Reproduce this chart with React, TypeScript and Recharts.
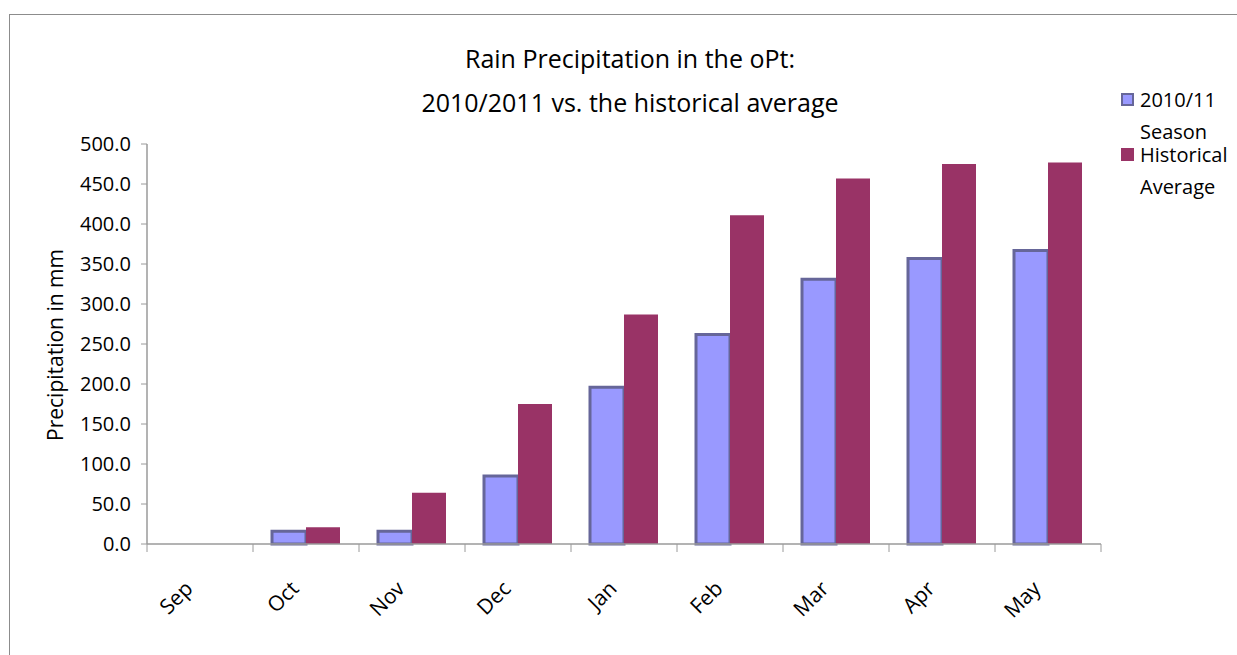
import React from 'react';
import { BarChart, Bar, XAxis, YAxis, Legend } from 'recharts';

const months = ['Sep', 'Oct', 'Nov', 'Dec', 'Jan', 'Feb', 'Mar', 'Apr', 'May'];
const season = [0, 16, 16, 85, 196, 262, 331, 357, 367];
const historical = [0, 21, 64, 175, 287, 411, 457, 475, 477];
const yTicks = [0, 50, 100, 150, 200, 250, 300, 350, 400, 450, 500];
const seriesNames = ['2010/11 Season', 'Historical Average'];
const titleLines = ['Rain Precipitation in the oPt:', '2010/2011 vs. the historical average'];
const yLabel = 'Precipitation in mm';

const data = months.map((m, i) => ({ month: m, season: season[i], historical: historical[i] }));

const FONT = "'Open Sans', 'Noto Sans', sans-serif";
const AXIS = '#9a9a9a';

const XTick = (props: any) => {
  const { x, y, payload, index } = props;
  const off = payload && payload.offset != null ? payload.offset : 0;
  const last = index === months.length - 1;
  const ax = x - 6;
  const ay = y + 46;
  return (
    <g>
      <line x1={x - off} x2={x - off} y1={y} y2={y + 8} stroke={AXIS} strokeWidth={1} />
      {last ? <line x1={x + off} x2={x + off} y1={y} y2={y + 8} stroke={AXIS} strokeWidth={1} /> : null}
      <text
        x={ax}
        y={ay}
        textAnchor="end"
        transform={`rotate(-45, ${ax}, ${ay})`}
        fontFamily={FONT}
        fontSize={21}
        fill="#000"
      >
        {payload.value}
      </text>
    </g>
  );
};

const LegendContent = (props: any) => {
  const { payload } = props;
  return (
    <div style={{ fontFamily: FONT, fontSize: 20, color: '#000' }}>
      {(payload || []).map((entry: any, i: number) => (
        <div key={i} style={{ display: 'flex', alignItems: 'flex-start', marginTop: i === 0 ? 0 : -9 }}>
          <div
            style={{
              width: i === 0 ? 9 : 13,
              height: i === 0 ? 9 : 13,
              marginTop: 9,
              marginRight: 6,
              background: i === 0 ? '#9999FF' : '#993366',
              border: i === 0 ? '2px solid #666699' : 'none',
              flexShrink: 0,
            }}
          />
          <div style={{ width: 95, lineHeight: '32px' }}>{entry.value}</div>
        </div>
      ))}
    </div>
  );
};

export default function App() {
  return (
    <div
      style={{
        position: 'fixed',
        top: 14,
        left: 9,
        right: 0,
        bottom: 0,
        borderTop: '1px solid #8c8c8c',
        borderLeft: '1px solid #8c8c8c',
        background: '#fff',
        overflow: 'hidden',
      }}
    >
      <div
        style={{
          position: 'absolute',
          left: 13,
          width: 1214,
          top: 21,
          textAlign: 'center',
          fontFamily: FONT,
          fontSize: 25,
          lineHeight: '44px',
          color: '#000',
        }}
      >
        {titleLines.map((t, i) => (
          <div key={i}>{t}</div>
        ))}
      </div>
      <div
        style={{
          position: 'absolute',
          left: 45,
          top: 330,
          transform: 'translate(-50%, -50%) rotate(-90deg)',
          whiteSpace: 'nowrap',
          fontFamily: FONT,
          fontSize: 21,
          color: '#000',
        }}
      >
        {yLabel}
      </div>
      <BarChart
        width={1227}
        height={630}
        data={data}
        margin={{ top: 129, right: 136, bottom: 41, left: 57 }}
        barGap={0}
        barSize={34}
      >
        <XAxis
          dataKey="month"
          height={60}
          axisLine={{ stroke: AXIS, strokeWidth: 1.5 }}
          tickLine={false}
          tickSize={0}
          tickMargin={0}
          interval={0}
          tick={<XTick />}
        />
        <YAxis
          width={80}
          domain={[0, 500]}
          ticks={yTicks}
          interval={0}
          tickFormatter={(v: number) => v.toFixed(1)}
          axisLine={{ stroke: AXIS, strokeWidth: 1.5 }}
          tickLine={{ stroke: AXIS }}
          tickSize={6}
          tickMargin={10}
          tick={{ fill: '#000', fontSize: 20, fontFamily: FONT }}
        />
        <Legend
          layout="vertical"
          align="center"
          verticalAlign="middle"
          wrapperStyle={{ top: 69, left: 1111, width: 116 }}
          content={<LegendContent />}
        />
        <Bar
          dataKey="season"
          name={seriesNames[0]}
          fill="#9999FF"
          stroke="#666699"
          strokeWidth={3}
          isAnimationActive={false}
        />
        <Bar
          dataKey="historical"
          name={seriesNames[1]}
          fill="#993366"
          isAnimationActive={false}
        />
      </BarChart>
    </div>
  );
}
